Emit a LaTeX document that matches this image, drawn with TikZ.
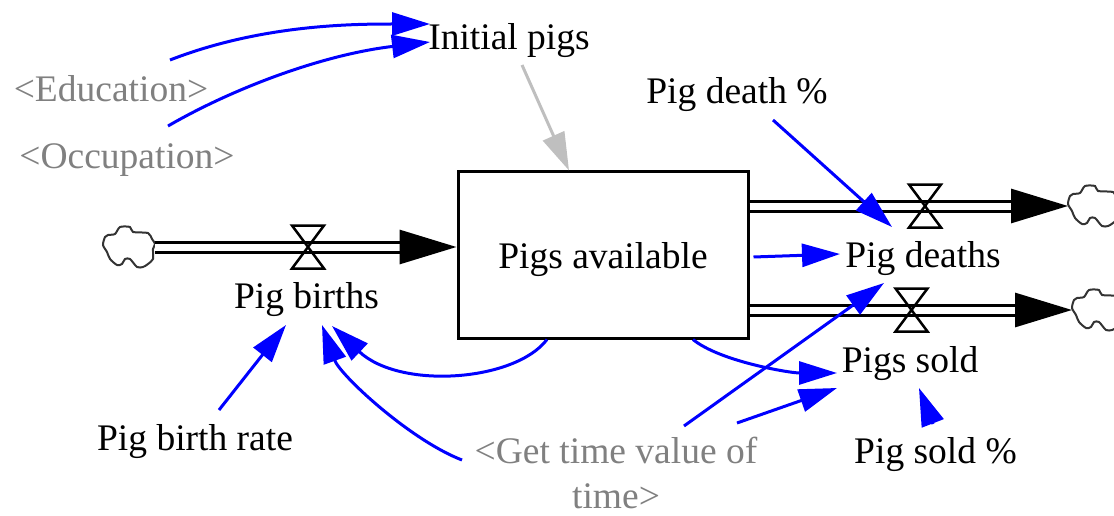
\documentclass[tikz,border=0pt]{standalone}
\usepackage{fontspec}
\setmainfont{Liberation Serif}
\usetikzlibrary{arrows.meta,calc}
\definecolor{lgray}{gray}{0.75}
\definecolor{dark}{gray}{0.2}
\newcommand{\varfont}{\fontsize{37.5}{45}\selectfont}

\begin{document}
\begin{tikzpicture}[x=1pt, y=-1pt,
		every node/.style={font=\varfont},
		var/.style={inner sep=0pt, anchor=base},
		shadow/.style={var, text=gray},
		stockbox/.style={draw, line width=3pt, minimum width=290pt, minimum height=166pt, text depth=0pt},
		pipe/.style={double, double distance=7pt, line width=3pt, -{Triangle[length=57pt,width=34pt]}},
		link/.style={blue, line width=3pt, -{Triangle[length=38pt,width=23pt]}},
		ghostlink/.style={link, lgray},
		valve/.pic={\draw[line width=2.5pt] (-16,-21.5) -- (16,-21.5) -- (-16,21.5) -- (16,21.5) -- cycle;},
		puff/.pic={
			\draw[dark, line width=2pt] plot[smooth cycle, tension=0.45] coordinates {(-24,-10) (-21,-12) (-14,-13) (-9,-20) (1,-20) (4,-15) (19,-14) (23,-8) (26,-3) (24,2) (24,12) (19,17) (14,20) (8,20) (1,12) (-4,12) (-7,17) (-12,18) (-19,12) (-22,5) (-26,-2)};
			\coordinate (-east) at (26,0);
			\coordinate (-west) at (-26,0);
		}
	]
		\useasboundingbox (0,0) rectangle (1114,516);

		% stock and its flows
		\node[stockbox] (stock) at (603,255) {Pigs available};
		\pic (cloudin) at (129,247) {puff};
		\pic (clouddeath) at (1094,206) {puff};
		\pic (cloudsold) at (1098,310) {puff};

		\draw[pipe] (cloudin-east) -- (cloudin-east -| stock.west);
		\draw[pipe] (stock.east |- clouddeath-west) -- (clouddeath-west);
		\draw[pipe] (stock.east |- cloudsold-west) -- (cloudsold-west);
		\pic at (308,247) {valve};
		\pic at (925,206) {valve};
		\pic at (911.5,310) {valve};

		% variables
		\node[var] (births) at (306.5,308) {Pig births};
		\node[var] (deaths) at (923,267) {Pig deaths};
		\node[var] (sold) at (910,372) {Pigs sold};
		\node[var] (initial) at (509,50) {Initial pigs};
		\node[var] (deathpct) at (737,104) {Pig death \%};
		\node[var] (rate) at (195,450) {Pig birth rate};
		\node[var] (soldpct) at (935.5,463) {Pig sold \%};
		\node[shadow] (education) at (111,102) {<Education>};
		\node[shadow] (occupation) at (127,168) {<Occupation>};
		\node[shadow, align=center] (gettime) at (616,508) {<Get time value of\\time>};

		% links
		\draw[link] ($(education.base)+(59,-42)$) .. controls +(90,-35) and +(-80,0) .. ($(initial.base)+(-79,-26)$);
		\draw[link] ($(occupation.base)+(41,-42)$) .. controls +(62,-36) and +(-110,13) .. ($(initial.base)+(-79,-8)$);
		\draw[ghostlink] ($(initial.base)+(13,15)$) -- ($(stock.north)+(-34,0)$);
		\draw[link] ($(rate.base)+(24,-40)$) -- ($(births.base)+(-20.5,17)$);
		\draw[link] ($(stock.south)+(-56,0)$) .. controls +(-32,42) and +(68,64) .. ($(births.base)+(25.5,18)$);
		\draw[link] ($(gettime.base)+(-154,-48)$) .. controls +(-52,-20) and +(18,50) .. ($(births.base)+(15.5,17)$);
		\draw[link] ($(deathpct.base)+(36,16)$) -- ($(deaths.base)+(-31,-40)$);
		\draw[link] ($(stock.east)+(4,2)$) -- ($(deaths.base)+(-83,-13)$);
		\draw[link] ($(gettime.base)+(68,-82)$) -- ($(deaths.base)+(-39,16)$);
		\draw[link] ($(stock.south)+(90,0)$) .. controls +(27,22) and +(-47,0) .. ($(sold.base)+(-73,1)$);
		\draw[link] ($(gettime.base)+(121,-85)$) -- ($(sold.base)+(-73,16)$);
		\draw[link] ($(soldpct.base)+(-2.5,-39)$) -- ($(sold.base)+(9,16)$);
	\end{tikzpicture}
\end{document}
